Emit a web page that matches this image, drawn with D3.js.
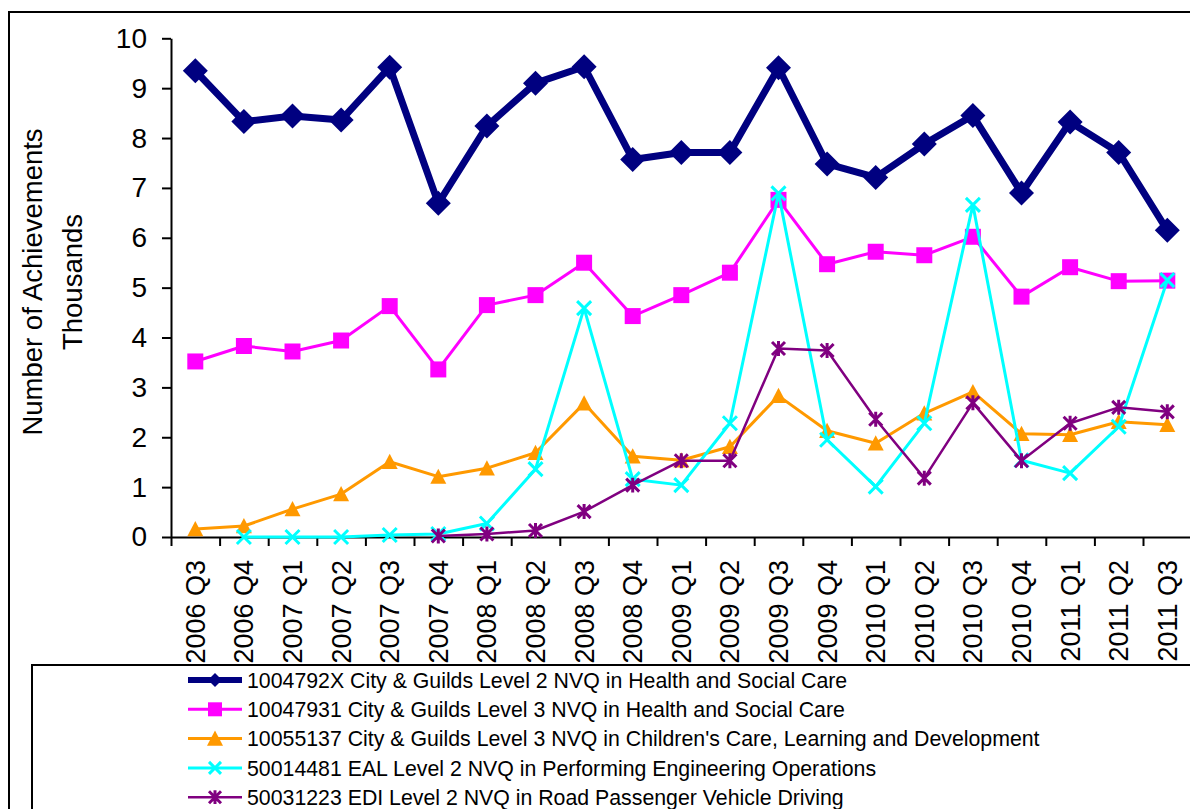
<!DOCTYPE html>
<html lang="en">
<head>
  <meta charset="UTF-8">
  <title>Number of Achievements by quarter</title>
  <script src="https://cdn.jsdelivr.net/npm/d3@7"></script>
</head>

<style>
body { margin: 0; background: #fff; }
svg { display: block; font-family: "Liberation Sans", Arial, sans-serif; }
.axis path, .axis line { stroke: #000; stroke-width: 2; }
</style>

<body>
  <svg width="1190" height="809"></svg>

  <script>
    var quarters = ["2006 Q3", "2006 Q4", "2007 Q1", "2007 Q2", "2007 Q3", "2007 Q4",
      "2008 Q1", "2008 Q2", "2008 Q3", "2008 Q4", "2009 Q1", "2009 Q2", "2009 Q3",
      "2009 Q4", "2010 Q1", "2010 Q2", "2010 Q3", "2010 Q4", "2011 Q1", "2011 Q2", "2011 Q3"];

    var yTicks = [0, 1, 2, 3, 4, 5, 6, 7, 8, 9, 10];

    // thousands of achievements, null = no data that quarter
    var hsc2 = [9.35, 8.33, 8.44, 8.36, 9.42, 6.69, 8.24, 9.10, 9.43, 7.57, 7.71,
      7.71, 9.41, 7.48, 7.21, 7.88, 8.45, 6.90, 8.32, 7.71, 6.15];
    var hsc3 = [3.52, 3.83, 3.72, 3.94, 4.63, 3.36, 4.65, 4.85, 5.50, 4.43, 4.85,
      5.30, 6.76, 5.47, 5.72, 5.65, 6.02, 4.82, 5.41, 5.13, 5.14];
    var childrens = [0.16, 0.22, 0.56, 0.86, 1.51, 1.21, 1.38, 1.69, 2.68, 1.62, 1.54,
      1.81, 2.83, 2.13, 1.88, 2.48, 2.91, 2.07, 2.05, 2.31, 2.25];
    var engineering = [null, 0.0, 0.0, 0.0, 0.04, 0.06, 0.27, 1.36, 4.59, 1.16, 1.04,
      2.28, 6.89, 1.95, 1.01, 2.28, 6.66, 1.54, 1.28, 2.21, 5.15];
    var driving = [null, null, null, null, null, 0.02, 0.06, 0.13, 0.51, 1.04, 1.53,
      1.53, 3.78, 3.74, 2.36, 1.18, 2.69, 1.53, 2.28, 2.60, 2.51];

    var seriesNames = [
      "1004792X City & Guilds Level 2 NVQ in Health and Social Care",
      "10047931 City & Guilds Level 3 NVQ in Health and Social Care",
      "10055137 City & Guilds Level 3 NVQ in Children's Care, Learning and Development",
      "50014481 EAL Level 2 NVQ in Performing Engineering Operations",
      "50031223 EDI Level 2 NVQ in Road Passenger Vehicle Driving"
    ];

    var series = [
      {name: seriesNames[0], values: hsc2, color: "#000080", width: 7, marker: "diamond"},
      {name: seriesNames[1], values: hsc3, color: "#ff00ff", width: 3, marker: "square"},
      {name: seriesNames[2], values: childrens, color: "#ff9900", width: 3, marker: "triangle"},
      {name: seriesNames[3], values: engineering, color: "#00ffff", width: 3, marker: "x"},
      {name: seriesNames[4], values: driving, color: "#800080", width: 2.5, marker: "star"}
    ];

    var svg = d3.select("svg");

    var plotLeft = 171, plotTop = 38.3, plotBottom = 537, bandW = 48.6;

    var x = d3.scaleBand().domain(quarters).range([plotLeft, plotLeft + bandW * quarters.length]);
    var xEdge = d3.scaleLinear().domain([0, quarters.length]).range(x.range());
    var y = d3.scaleLinear().domain([0, 10]).range([plotBottom, plotTop]);

    // outer chart border
    svg.append("rect")
      .attr("x", 9).attr("y", 12).attr("width", 1300).attr("height", 900)
      .attr("fill", "none").attr("stroke", "#000").attr("stroke-width", 2);

    // y axis
    var gy = svg.append("g").attr("class", "axis")
      .attr("transform", "translate(" + plotLeft + ",0)")
      .call(d3.axisLeft(y).tickValues(yTicks).tickSize(9).tickPadding(15).tickSizeOuter(0));
    gy.selectAll("text").style("font-size", "28px").attr("fill", "#000");

    // x axis: ticks between the quarters
    var gx = svg.append("g").attr("class", "axis")
      .attr("transform", "translate(0," + plotBottom + ")")
      .call(d3.axisBottom(xEdge).tickValues(d3.range(0, quarters.length + 1))
        .tickSize(9).tickSizeOuter(0).tickFormat(""));

    svg.append("g").selectAll("text")
      .data(quarters)
      .join("text")
      .attr("transform", d => "translate(" + (x(d) + x.bandwidth() / 2) + ",560) rotate(-90)")
      .attr("dy", "0.35em")
      .attr("text-anchor", "end")
      .style("font-size", "27px")
      .text(d => d);

    // axis title
    var titleY = 282;
    svg.append("text")
      .attr("transform", "translate(42," + titleY + ") rotate(-90)")
      .attr("text-anchor", "middle")
      .style("font-size", "27.5px")
      .text("Number of Achievements");
    svg.append("text")
      .attr("transform", "translate(82," + titleY + ") rotate(-90)")
      .attr("text-anchor", "middle")
      .style("font-size", "27.5px")
      .text("Thousands");

    function markerPath(type, s) {
      if (type == "diamond") return "M0," + (-s) + "L" + s + ",0L0," + s + "L" + (-s) + ",0Z";
      if (type == "square") return "M" + (-s) + "," + (-s) + "h" + (2 * s) + "v" + (2 * s) + "h" + (-2 * s) + "Z";
      if (type == "triangle") return "M0," + (-s) + "L" + s + "," + (s * 0.9) + "L" + (-s) + "," + (s * 0.9) + "Z";
      if (type == "x") return "M" + (-s) + "," + (-s) + "L" + s + "," + s + "M" + (-s) + "," + s + "L" + s + "," + (-s);
      // asterisk: x plus a vertical bar
      return "M" + (-s) + "," + (-s) + "L" + s + "," + s + "M" + (-s) + "," + s + "L" + s + "," + (-s) +
        "M0," + (-s * 1.15) + "L0," + (s * 1.15);
    }
    var chartSize = {diamond: 12.5, square: 8, triangle: 8, x: 7, star: 6.5};

    var line = d3.line()
      .defined(d => d.v != null)
      .x(d => x(d.q) + x.bandwidth() / 2)
      .y(d => y(d.v));

    series.forEach(function(s) {
      var pts = quarters.map((q, i) => ({q: q, v: s.values[i]}));
      var g = svg.append("g");
      g.append("path")
        .datum(pts)
        .attr("fill", "none")
        .attr("stroke", s.color)
        .attr("stroke-width", s.width)
        .attr("stroke-linejoin", "round")
        .attr("d", line);
      var open = (s.marker == "x" || s.marker == "star");
      g.selectAll("path.m")
        .data(pts.filter(d => d.v != null))
        .join("path")
        .attr("class", "m")
        .attr("transform", d => "translate(" + (x(d.q) + x.bandwidth() / 2) + "," + y(d.v) + ")")
        .attr("d", markerPath(s.marker, chartSize[s.marker]))
        .attr("fill", open ? "none" : s.color)
        .attr("stroke", s.color)
        .attr("stroke-width", open ? 3 : 0);
    });

    // legend
    var legend = svg.append("g");
    legend.append("rect")
      .attr("x", 32).attr("y", 665).attr("width", 1300).attr("height", 300)
      .attr("fill", "#fff").attr("stroke", "#000").attr("stroke-width", 2);

    var legendSize = {diamond: 7, square: 7, triangle: 8, x: 6, star: 6};
    var rows = legend.selectAll("g.row")
      .data(series)
      .join("g")
      .attr("class", "row")
      .attr("transform", (d, i) => "translate(0," + (680 + i * 29.3) + ")");
    rows.append("line")
      .attr("x1", 188).attr("x2", 242)
      .attr("stroke", d => d.color)
      .attr("stroke-width", d => d.marker == "diamond" ? 6 : d.width);
    rows.append("path")
      .attr("transform", "translate(215,0)")
      .attr("d", d => markerPath(d.marker, legendSize[d.marker]))
      .attr("fill", d => (d.marker == "x" || d.marker == "star") ? "none" : d.color)
      .attr("stroke", d => d.color)
      .attr("stroke-width", d => (d.marker == "x" || d.marker == "star") ? 3 : 0);
    rows.append("text")
      .attr("x", 247)
      .attr("dy", "0.36em")
      .style("font-size", "21.3px")
      .text(d => d.name);
  </script>

</body>
</html>
